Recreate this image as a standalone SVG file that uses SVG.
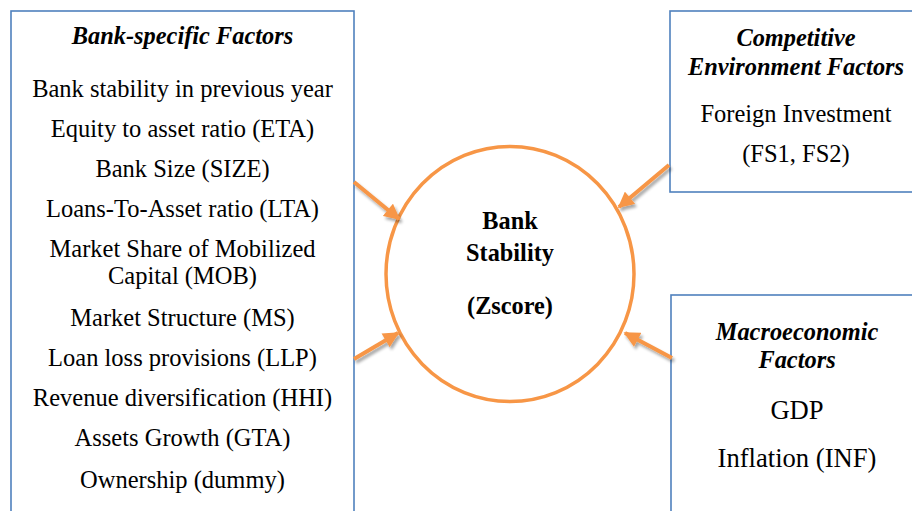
<svg xmlns="http://www.w3.org/2000/svg" width="912" height="511" viewBox="0 0 912 511">
<style>
.box{fill:#fff;stroke:#4f81bd;stroke-width:1.6}
.t{font-family:"Liberation Serif","Times New Roman",serif;fill:#000;text-anchor:middle}
.it{font-size:24.5px}
.big{font-size:26.6px}
.hd{font-size:24.4px;font-weight:bold;font-style:italic}
.ct{font-size:24.3px;font-weight:bold}
.arr{stroke:#f79646;stroke-width:4;fill:none;marker-end:url(#ah);filter:url(#sh)}
</style>
<defs>
<marker id="ah" viewBox="0 0 10 10" refX="9" refY="5" markerWidth="4.2" markerHeight="4" orient="auto" markerUnits="strokeWidth">
<path d="M0,0 L10,5 L0,10 Z" fill="#f79646"/>
</marker>
<filter id="sh" x="-30%" y="-30%" width="160%" height="160%">
<feGaussianBlur in="SourceAlpha" stdDeviation="1.5"/>
<feOffset dx="2" dy="3" result="b"/>
<feComponentTransfer><feFuncA type="linear" slope="0.35"/></feComponentTransfer>
<feMerge><feMergeNode/><feMergeNode in="SourceGraphic"/></feMerge>
</filter>
</defs>
<rect width="912" height="511" fill="#fff"/>
<g id="bank-specific">
<rect class="box" x="11" y="11" width="343" height="520"/>
<text class="t hd" x="182.5" y="44">Bank-specific Factors</text>
<text class="t it" x="182.5" y="97">Bank stability in previous year</text>
<text class="t it" x="182.5" y="137">Equity to asset ratio (ETA)</text>
<text class="t it" x="182.5" y="177">Bank Size (SIZE)</text>
<text class="t it" x="182.5" y="217">Loans-To-Asset ratio (LTA)</text>
<text class="t it" x="182.5" y="257">Market Share of Mobilized</text>
<text class="t it" x="182.5" y="284">Capital (MOB)</text>
<text class="t it" x="182.5" y="326">Market Structure (MS)</text>
<text class="t it" x="182.5" y="366">Loan loss provisions (LLP)</text>
<text class="t it" x="182.5" y="406">Revenue diversification (HHI)</text>
<text class="t it" x="182.5" y="446">Assets Growth (GTA)</text>
<text class="t it" x="182.5" y="488">Ownership (dummy)</text>
</g>
<g id="competitive">
<rect class="box" x="670" y="11" width="260" height="181"/>
<text class="t hd" x="796" y="46">Competitive</text>
<text class="t hd" x="796" y="75">Environment Factors</text>
<text class="t it" x="796" y="122">Foreign Investment</text>
<text class="t it" x="796" y="162">(FS1, FS2)</text>
</g>
<g id="macro">
<rect class="box" x="671" y="295" width="260" height="240"/>
<text class="t hd" x="797" y="340">Macroeconomic</text>
<text class="t hd" x="797" y="368">Factors</text>
<text class="t big" x="797" y="419">GDP</text>
<text class="t big" x="797" y="467">Inflation (INF)</text>
</g>
<g id="stability">
<ellipse cx="510" cy="274" rx="124" ry="127.5" fill="none" stroke="#f79646" stroke-width="3.5"/>
<text class="t ct" x="510" y="229">Bank</text>
<text class="t ct" x="510" y="261">Stability</text>
<text class="t ct" x="510" y="314">(Zscore)</text>
</g>
<g id="connectors">
<line class="arr" x1="354" y1="182" x2="399" y2="219"/>
<line class="arr" x1="354" y1="359" x2="398" y2="333"/>
<line class="arr" x1="669" y1="165" x2="619" y2="207"/>
<line class="arr" x1="672" y1="358" x2="625" y2="333"/>
</g>
</svg>
